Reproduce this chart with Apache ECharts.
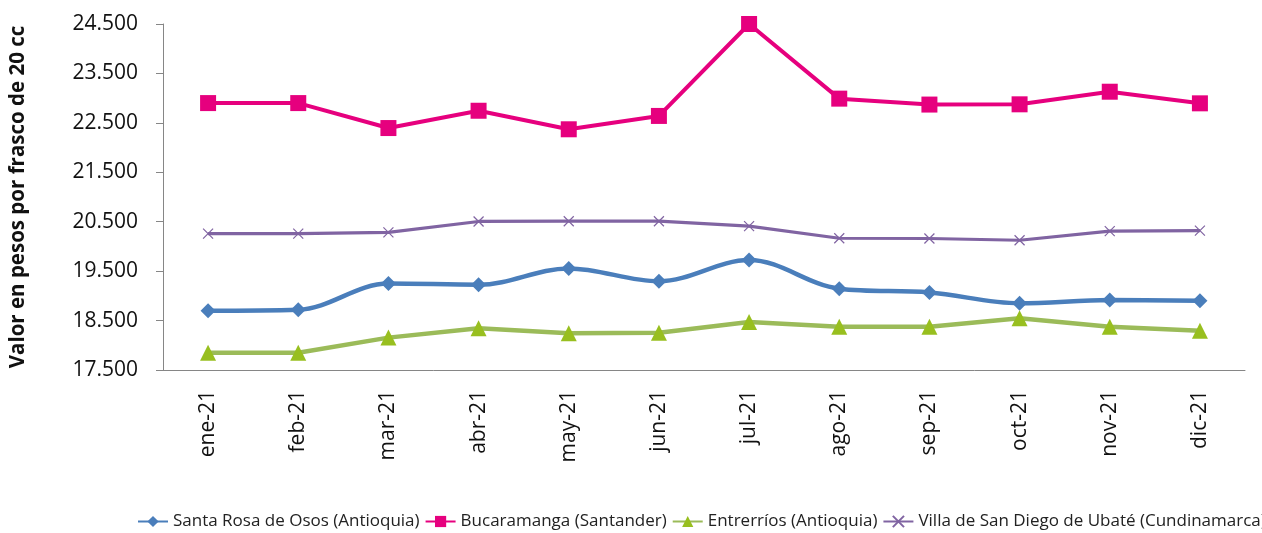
<!DOCTYPE html>
<html>
<head>
<meta charset="utf-8">
<script src="https://cdn.jsdelivr.net/npm/echarts@6/dist/echarts.min.js"></script>
<style>
  html, body { margin: 0; padding: 0; background: #fff; }
  #chart { width: 1262px; height: 533px; }
</style>
</head>
<body>
<div id="chart"></div>
<script>
const months = ["ene-21", "feb-21", "mar-21", "abr-21", "may-21", "jun-21", "jul-21", "ago-21", "sep-21", "oct-21", "nov-21", "dic-21"];
const santaRosa = [18700, 18720, 19250, 19225, 19555, 19295, 19725, 19145, 19070, 18850, 18915, 18900];
const bucaramanga = [22900, 22900, 22395, 22745, 22370, 22640, 24500, 22990, 22870, 22875, 23130, 22895];
const entrerrios = [17850, 17850, 18155, 18345, 18245, 18255, 18470, 18375, 18375, 18545, 18375, 18295];
const ubate = [20260, 20260, 20285, 20505, 20510, 20510, 20410, 20165, 20160, 20125, 20310, 20320];
const yTicks = [17500, 18500, 19500, 20500, 21500, 22500, 23500, 24500];

const font = "'Open Sans', 'Noto Sans', sans-serif";
const fmt = v => String(v).replace(/\B(?=(\d{3})+(?!\d))/g, ".");

const chart = echarts.init(document.getElementById("chart"));

const option = {
  animation: false,
  grid: { left: 157, right: 17, top: 24, bottom: 163, containLabel: false },
  legend: {
    bottom: 3,
    left: 137,
    width: 1300,
    padding: 0,
    itemWidth: 30,
    itemHeight: 14,
    itemGap: 5,
    textStyle: { fontFamily: font, fontSize: 17, color: "#222" },
    data: [
      "Santa Rosa de Osos (Antioquia)",
      "Bucaramanga (Santander)",
      "Entrerríos (Antioquia)",
      "Villa de San Diego de Ubaté (Cundinamarca)"
    ]
  },
  xAxis: {
    type: "category",
    data: months,
    boundaryGap: true,
    axisLine: { lineStyle: { color: "#868686", width: 1 } },
    axisTick: { show: false },
    axisLabel: {
      rotate: 90,
      margin: 20,
      fontFamily: font,
      fontSize: 21,
      color: "#111"
    }
  },
  yAxis: {
    type: "value",
    min: 17500,
    max: 24500,
    name: "Valor en pesos por frasco de 20 cc",
    nameLocation: "middle",
    nameGap: 134,
    nameTextStyle: { fontFamily: font, fontSize: 20.5, fontWeight: "bold", color: "#111" },
    axisLine: { show: true, lineStyle: { color: "#868686", width: 1 } },
    axisTick: { show: true, length: 7, customValues: yTicks, lineStyle: { color: "#868686" } },
    splitLine: { show: false },
    axisLabel: {
      customValues: yTicks,
      formatter: v => fmt(v),
      margin: 25,
      fontFamily: font,
      fontSize: 21,
      color: "#111"
    }
  },
  series: [
    {
      name: "Santa Rosa de Osos (Antioquia)",
      type: "line",
      data: santaRosa,
      smooth: 0.35,
      symbol: "diamond",
      symbolSize: 15,
      lineStyle: { color: "#4a7ebb", width: 4.5 },
      itemStyle: { color: "#4a7ebb" }
    },
    {
      name: "Bucaramanga (Santander)",
      type: "line",
      data: bucaramanga,
      symbol: "rect",
      symbolSize: 16,
      lineStyle: { color: "#e6007e", width: 4 },
      itemStyle: { color: "#e6007e" }
    },
    {
      name: "Entrerríos (Antioquia)",
      type: "line",
      data: entrerrios,
      symbol: "triangle",
      symbolSize: 16,
      lineStyle: { color: "#9bbb59", width: 4.5 },
      itemStyle: { color: "#98bf1f" }
    },
    {
      name: "Villa de San Diego de Ubaté (Cundinamarca)",
      type: "line",
      data: ubate,
      symbol: "path://M0,0 L10,10 M10,0 L0,10",
      symbolSize: 10,
      lineStyle: { color: "#8064a2", width: 3.2 },
      itemStyle: { color: "none", borderColor: "#8064a2", borderWidth: 1.2 }
    }
  ]
};

chart.setOption(option);
</script>
</body>
</html>
